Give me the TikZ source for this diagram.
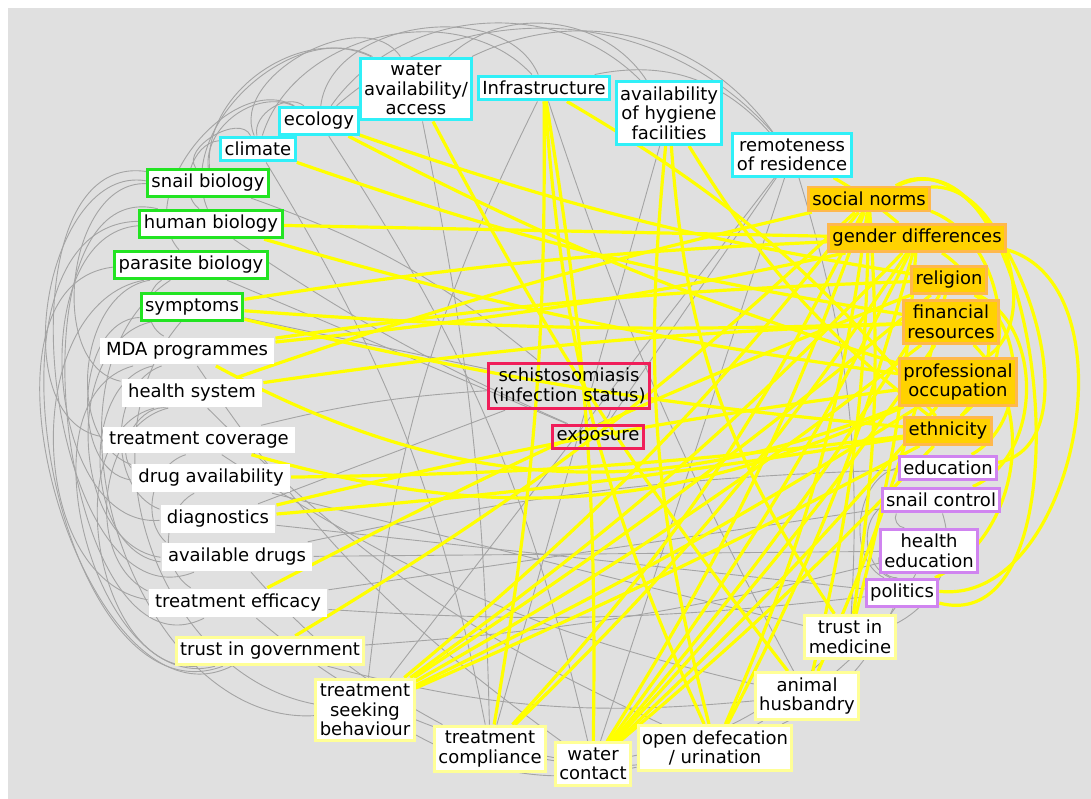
\documentclass[tikz,border=0pt]{standalone}
\usepackage{fontspec}
\setmainfont{DejaVu Sans}
\usetikzlibrary{backgrounds}
\definecolor{bgray}{HTML}{E0E0E0}
\definecolor{edgegray}{HTML}{A4A4A4}
\definecolor{envcol}{HTML}{30F0F8}
\definecolor{biocol}{HTML}{22E422}
\definecolor{behcol}{HTML}{FFFF96}
\definecolor{ctrlcol}{HTML}{D084F0}
\definecolor{soccol}{HTML}{FFB84C}
\definecolor{socfill}{HTML}{FFD200}
\definecolor{corecol}{HTML}{F01E5A}
\definecolor{yedgecol}{HTML}{FFFF00}

\begin{document}
\begin{tikzpicture}[
  x=1pt, y=-1pt,
  every node/.style={font=\fontsize{18}{19.5}\selectfont, align=center,
    inner xsep=4pt, inner ysep=5pt, fill=white, line width=3pt},
  envi/.style={draw=envcol},
  bio/.style={draw=biocol},
  hsys/.style={inner xsep=6pt},
  behav/.style={draw=behcol},
  ctrl/.style={draw=ctrlcol},
  social/.style={draw=soccol, fill=socfill, line width=2.5pt},
  core/.style={draw=corecol, fill=none},
  gedge/.style={draw=edgegray, line width=0.9pt},
  yedge/.style={draw=yedgecol, line width=3.2pt}
  ]
  \useasboundingbox (0,0) rectangle (1091,799);
  \begin{scope}[on background layer]
    \fill[bgray] (8,8) rectangle (1091,799);
  \end{scope}

  % environment
  \node[envi] (clim) at (258,149) {climate};
  \node[envi] (eco) at (319,121) {ecology};
  \node[envi] (water) at (416,89) {water\\availability/\\access};
  \node[envi] (infra) at (544,88) {Infrastructure};
  \node[envi] (hyg) at (669,113) {availability\\of hygiene\\facilities};
  \node[envi] (remote) at (792,155) {remoteness\\of residence};
  % biology
  \node[bio] (snail) at (208,183) {snail biology};
  \node[bio] (human) at (211,224) {human biology};
  \node[bio] (parasite) at (191,265) {parasite biology};
  \node[bio] (symp) at (192,307) {symptoms};
  % health system
  \node[hsys] (mda) at (187,351) {MDA programmes};
  \node[hsys] (health) at (192,393) {health system};
  \node[hsys] (treatcov) at (199,440) {treatment coverage};
  \node[hsys] (drug) at (211,478) {drug availability};
  \node[hsys] (diag) at (218,519) {diagnostics};
  \node[hsys] (avail) at (237,557) {available drugs};
  \node[hsys] (eff) at (238,603) {treatment efficacy};
  % behaviour
  \node[behav] (trustgov) at (270,651) {trust in government};
  \node[behav] (seek) at (365,710) {treatment\\seeking\\behaviour};
  \node[behav] (compl) at (490,749) {treatment\\compliance};
  \node[behav] (watercon) at (593,764) {water\\contact};
  \node[behav] (opendef) at (715,748) {open defecation\\/ urination};
  \node[behav] (animal) at (807,696) {animal\\husbandry};
  \node[behav] (trustmed) at (850,637) {trust in\\medicine};
  % control
  \node[ctrl] (polit) at (902,593) {politics};
  \node[ctrl] (healthedu) at (929,551) {health\\education};
  \node[ctrl] (snailctl) at (941,500) {snail control};
  \node[ctrl] (educ) at (948,468) {education};
  % social
  \node[social] (ethnic) at (948,431) {ethnicity};
  \node[social] (prof) at (958,382) {professional\\occupation};
  \node[social] (finres) at (951,322) {financial\\resources};
  \node[social] (relig) at (949,280) {religion};
  \node[social] (gender) at (917,238) {gender differences};
  \node[social] (social) at (869,199) {social norms};
  % outcome
  \node[core] (schisto) at (569,386) {schistosomiasis\\(infection status)};
  \node[core] (expo) at (598,437) {exposure};

  \begin{scope}[on background layer]
    % grey links
    \foreach \a/\b/\k in {clim/infra/60, eco/hyg/50, snail/water/60, clim/eco/70,
        snail/eco/60, human/clim/70, water/remote/40, infra/remote/30,
        eco/watercon/10, clim/compl/10, snail/schisto/10, infra/seek/-10,
        hyg/compl/0, remote/watercon/0, remote/trustmed/10, remote/expo/0,
        remote/seek/0, infra/animal/-5, water/compl/5, clim/water/85,
        eco/infra/75, snail/clim/95, parasite/eco/80, water/hyg/50,
        eco/remote/45, human/water/70}
      \draw[gedge] (\a) to[bend left=\k] (\b);
    \foreach \a/\b/\k in {parasite/eff/80, snail/treatcov/90, human/diag/90,
        symp/avail/80, parasite/mda/60, mda/trustgov/90, health/eff/70,
        treatcov/avail/60, mda/diag/70, health/drug/70, drug/eff/60,
        symp/seek/60, human/trustgov/100, parasite/drug/75, snail/health/85,
        human/eff/110, snail/avail/105, symp/drug/85, mda/avail/80,
        parasite/seek/75, health/trustgov/85, parasite/trustgov/100}
      \draw[gedge] (\a) to[bend right=\k] (\b);
    \foreach \a/\b/\k in {mda/watercon/-10, health/opendef/-10,
        treatcov/animal/-10, drug/trustmed/0, diag/polit/0, avail/healthedu/0,
        eff/snailctl/0, avail/educ/5, schisto/expo/30, symp/schisto/0,
        diag/schisto/0, parasite/expo/0, trustgov/animal/-10, seek/opendef/-20,
        compl/animal/-20, watercon/trustmed/-15, eff/polit/-5,
        trustgov/healthedu/-5, snailctl/polit/-60, healthedu/polit/-50,
        trustmed/snailctl/-40, opendef/polit/-20, animal/healthedu/-10,
        human/expo/-5, treatcov/schisto/5, eff/watercon/-15, avail/compl/-10,
        educ/polit/-70, snailctl/healthedu/-60}
      \draw[gedge] (\a) to[bend left=\k] (\b);
    % yellow links
    \foreach \a/\b/\k in {clim/finres/-5, eco/relig/-5, eco/prof/-5,
        water/animal/-5, infra/watercon/5, infra/compl/5, infra/opendef/-10,
        infra/ethnic/10, hyg/opendef/-10, hyg/trustmed/-15, hyg/ethnic/-10,
        remote/gender/5, human/gender/0, human/prof/-4, symp/finres/-3,
        symp/gender/3, symp/ethnic/-4, mda/relig/3, mda/gender/-3,
        mda/prof/-25, health/finres/3, health/social/3, treatcov/prof/-20,
        drug/ethnic/-3, diag/prof/3, diag/ethnic/-2, eff/relig/3,
        trustgov/social/-6, seek/social/-6, seek/gender/-5, seek/finres/-4,
        seek/relig/-3, seek/prof/-3, seek/ethnic/-2, compl/gender/-6,
        compl/social/-8, watercon/social/-6, watercon/gender/-5,
        watercon/relig/-4, watercon/finres/-4, watercon/prof/-3,
        watercon/ethnic/-3, opendef/gender/-6, opendef/social/-8,
        animal/social/-6, animal/relig/-5, trustmed/gender/-5,
        trustmed/social/-6}
      \draw[yedge] (\a) to[bend left=\k] (\b);
    \foreach \a/\b/\k in {social/ethnic/60, gender/ethnic/50,
        social/prof/75, relig/educ/60, social/educ/100, social/polit/110,
        gender/polit/85, finres/polit/55, relig/snailctl/65}
      \draw[yedge] (\a) to[bend left=\k] (\b);
  \end{scope}
\end{tikzpicture}
\end{document}
